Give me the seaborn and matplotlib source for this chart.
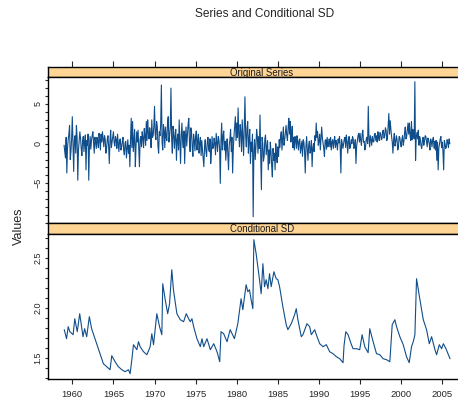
import numpy as np
import pandas as pd
import matplotlib
matplotlib.use("Agg")
import matplotlib.pyplot as plt
import seaborn as sns

sns.set_style("ticks")
plt.rcParams['font.family'] = ['Liberation Sans', 'DejaVu Sans']

# Serie originale : valeurs mensuelles (1959 -> 2005)
start_year = 1959
obs_per_year = 12
series_values = [
    -0.2, -1.0, -1.8, 0.8, -3.7, -0.5, 0.5, 1.2, 2.3, -2.0, -1.0, 0.6,    # 1959
    3.4, 0.2, -3.5, 0.5, 1.0, -1.2, 2.3, 0.8, -4.6, -0.8, 0.4, 1.5,       # 1960
    0.7, -0.6, -1.5, 0.3, 0.9, -1.0, 0.2, 1.1, -3.3, 0.4, -0.2, 1.2,      # 1961
    -4.6, -0.4, 0.9, -0.7, 0.4, 1.0, 1.5, 0.2, -1.2, 0.8, 0.3, -0.6,      # 1962
    0.8, 0.3, -0.5, 1.3, 0.5, -0.8, 1.2, 0.2, 1.5, 0.6, -0.4, 1.0,        # 1963
    0.6, -1.2, -0.6, 0.5, 1.0, -0.3, -2.5, 0.4, 1.7, -0.5, 0.2, 0.9,      # 1964
    1.5, 0.2, -0.3, 0.9, 0.5, -0.6, 1.2, 0.1, -1.0, 0.4, 0.6, -0.8,       # 1965
    -0.4, 0.3, 0.8, -0.9, -1.4, 0.1, 0.3, -1.8, -0.6, 0.5, -1.2, -0.2,    # 1966
    -2.9, 0.6, 3.2, -0.5, 2.8, -1.0, 0.4, 1.8, -2.9, -0.3, 1.5, 0.2,      # 1967
    1.7, -0.8, -2.9, 0.6, 0.9, -0.4, 1.5, 0.7, -0.5, 1.9, 1.0, -0.2,      # 1968
    2.8, 0.4, 3.0, 1.4, 0.6, 2.0, 1.2, -0.5, 3.0, 0.8, 1.0, 2.2,          # 1969
    4.7, 1.2, 0.5, 2.8, 2.2, -0.3, -1.2, 1.5, 1.0, 2.5, 7.4, 0.2,         # 1970
    -0.8, 2.4, 1.7, -0.5, 2.1, 0.8, 0.4, 2.6, 3.4, 0.2, 1.0, 2.0,         # 1971
    7.0, 0.6, -1.2, 2.2, 1.5, -0.6, 0.9, 1.8, -2.1, 0.5, 1.2, -0.8,       # 1972
    3.0, 0.4, -2.5, 1.0, 2.6, 0.3, -0.5, 1.6, -2.5, 0.6, 2.1, -0.3,       # 1973
    1.0, 2.4, 3.2, 0.2, -1.0, 2.0, 1.5, -0.4, -1.6, 1.2, 0.5, -0.9,       # 1974
    0.9, 1.6, -0.8, 0.3, 1.2, -1.2, 0.0, 0.8, -1.5, 0.4, -0.8, -1.8,      # 1975
    -2.9, -0.4, 0.5, -1.0, -1.6, 0.2, 0.8, -0.7, -1.0, 0.6, -2.5, -1.2,   # 1976
    0.9, -0.6, -0.5, 0.7, 0.0, -1.4, 1.3, 0.2, -1.0, 0.9, 0.5, -0.6,      # 1977
    -5.0, 0.4, 2.6, -0.8, 0.9, 1.6, -0.8, 0.3, -2.1, -0.6, 0.6, -1.5,     # 1978
    -3.3, -0.2, 0.5, 1.8, -1.0, 0.8, -3.7, -0.6, 1.0, 2.2, 3.4, 0.4,      # 1979
    2.6, 0.8, 4.5, 1.2, -0.4, 2.4, 1.5, -1.0, 3.0, 0.6, -1.5, 2.0,        # 1980
    5.9, 1.0, -0.4, 2.0, 2.8, -1.2, 0.5, 1.8, -2.5, 0.2, -1.0, 1.2,       # 1981
    -9.2, -1.0, 0.5, -2.0, -0.4, 1.8, 1.0, -1.2, 0.9, -0.6, 3.6, -1.6,    # 1982
    -5.8, 0.8, 0.0, -2.2, -1.6, 0.6, 1.1, -1.4, -0.5, 0.4, -3.3, -0.8,    # 1983
    -2.5, 0.2, -1.0, -2.8, -4.2, -0.6, -2.1, -1.2, -3.3, 0.0, -1.5, -2.4, # 1984
    -0.4, -1.6, 0.5, -0.5, 0.9, 1.5, -0.8, 0.6, 2.1, -0.2, 0.5, 1.4,      # 1985
    2.3, 1.0, 0.4, 2.0, 3.2, 1.2, 2.8, 0.2, 1.3, 2.2, -0.5, 0.8,          # 1986
    -0.8, 0.9, 0.5, -0.6, 1.0, 0.2, -0.8, 0.4, 0.6, -1.2, -0.5, 0.3,      # 1987
    -1.6, 0.5, 0.2, -1.0, -3.7, -0.4, 0.9, -0.8, -2.1, -0.2, 0.3, -1.2,   # 1988
    -0.8, 0.4, -2.9, -0.6, 0.0, -1.0, 1.0, 0.4, 2.6, 0.8, 1.5, -0.2,      # 1989
    0.3, 1.2, -0.8, 0.6, 2.1, 0.7, 0.0, -0.6, -1.6, 0.4, 0.5, -0.7,       # 1990
    0.8, -0.4, 0.0, 0.6, -0.4, 0.8, -0.8, 0.2, 0.5, -0.6, 0.3, 0.9,       # 1991
    -0.5, 0.4, 0.0, -0.8, 0.6, 0.1, 0.9, -0.4, -3.7, 0.5, 0.0, -0.6,      # 1992
    0.0, 0.6, 0.8, -0.5, 1.1, 0.2, -1.2, 0.4, 0.9, -0.6, -0.3, 0.5,       # 1993
    0.0, 0.9, 0.6, -0.6, -0.4, 0.5, -2.5, -0.3, 0.4, 1.0, 1.3, 0.2,       # 1994
    1.3, 0.4, -0.2, 1.2, 1.7, 0.2, 0.3, -0.8, -0.4, 0.6, 0.8, 0.0,        # 1995
    4.7, 0.6, -0.4, 1.0, 0.5, -0.2, 0.9, 0.3, 0.2, 1.2, 1.3, 0.4,         # 1996
    1.0, 0.2, 1.5, 0.8, 0.4, 1.4, 1.3, 0.5, 0.6, 1.6, 1.7, 0.7,           # 1997
    1.0, 2.0, 1.7, 0.4, 0.8, 2.2, 3.8, 1.2, 2.9, 1.8, 0.9, 0.2,           # 1998
    -1.2, 0.6, 1.3, -0.3, 0.2, 1.0, 0.5, -0.8, -0.4, 0.9, 0.8, 0.1,       # 1999
    -0.4, 0.5, 1.0, -0.2, 0.3, 1.4, 2.1, 0.6, 0.9, 1.8, 2.6, 1.2,         # 2000
    2.6, 1.0, 0.4, 2.8, 0.5, 1.8, 1.3, 0.6, 7.8, -2.1, 0.8, 1.4,          # 2001
    0.6, 1.7, -0.2, 0.9, 0.5, -0.3, -0.6, 0.4, 0.8, -0.2, 0.3, 1.0,       # 2002
    0.9, 0.2, -0.4, 0.7, 0.5, 0.0, -0.8, 0.6, 0.3, -0.4, 0.5, 0.8,        # 2003
    -0.6, 0.3, -0.8, 0.4, -2.1, 0.2, -3.3, -0.5, 0.0, 0.6, 0.9, -0.5,     # 2004
    0.2, -1.0, -3.3, 0.4, 0.0, -0.6, -0.4, 0.5, 0.2, -0.5, 0.6, 0.0,      # 2005
]

# Ecart-type conditionnel : points
sd_years = [
    1959.02, 1959.3, 1959.5, 1959.7, 1960.1, 1960.3, 1960.6, 1960.9, 1961.3, 1961.5,
    1961.75, 1962.07, 1962.35, 1962.76, 1963.37, 1963.78, 1964.19, 1964.59, 1964.8, 1965.2,
    1965.6, 1966.02, 1966.42, 1966.83, 1967.03, 1967.24, 1967.44, 1967.85, 1968.05, 1968.25,
    1968.66, 1969.07, 1969.47, 1969.67, 1969.88, 1970.28, 1970.61, 1970.89, 1971.0, 1971.3,
    1971.6, 1971.83, 1972.1, 1972.3, 1972.72, 1973.13, 1973.54, 1973.86, 1974.15, 1974.35,
    1974.55, 1974.76, 1975.16, 1975.57, 1975.77, 1975.98, 1976.38, 1976.79, 1977.2, 1977.6,
    1977.93, 1978.09, 1978.41, 1978.82, 1979.2, 1979.72, 1980.13, 1980.53, 1980.74, 1981.14,
    1981.35, 1981.55, 1981.75, 1981.96, 1982.08, 1982.36, 1982.77, 1982.97, 1983.18, 1983.38,
    1983.58, 1983.79, 1983.99, 1984.19, 1984.52, 1984.8, 1985.0, 1985.21, 1985.61, 1986.02,
    1986.22, 1986.63, 1987.04, 1987.24, 1987.44, 1987.85, 1988.05, 1988.54, 1988.87, 1989.07,
    1989.48, 1989.68, 1990.09, 1990.49, 1990.9, 1991.3, 1991.71, 1992.12, 1992.52, 1992.93,
    1993.05, 1993.26, 1993.54, 1993.95, 1994.15, 1994.56, 1994.96, 1995.25, 1995.57, 1995.98,
    1996.18, 1996.59, 1997.0, 1997.4, 1997.81, 1998.22, 1998.62, 1998.91, 1999.23, 1999.44,
    1999.84, 2000.25, 2000.65, 2000.98, 2001.26, 2001.47, 2001.67, 2001.87, 2002.28, 2002.69,
    2003.09, 2003.42, 2003.7, 2004.11, 2004.31, 2004.64, 2004.92, 2005.13, 2005.45, 2005.94,
]
sd_values = [
    1.78, 1.69, 1.81, 1.76, 1.73, 1.89, 1.76, 1.94, 1.71, 1.79,
    1.71, 1.91, 1.79, 1.69, 1.54, 1.44, 1.41, 1.38, 1.52, 1.46,
    1.41, 1.38, 1.36, 1.38, 1.34, 1.48, 1.63, 1.58, 1.66, 1.61,
    1.56, 1.53, 1.61, 1.74, 1.63, 1.94, 1.81, 1.73, 2.24, 2.08,
    1.94, 2.04, 2.38, 2.18, 1.94, 1.88, 1.86, 1.94, 1.89, 1.86,
    1.89, 1.81, 1.69, 1.61, 1.69, 1.61, 1.69, 1.58, 1.64, 1.56,
    1.46, 1.76, 1.74, 1.66, 1.78, 1.69, 1.84, 2.09, 1.98, 2.23,
    2.16, 2.18, 2.08, 1.99, 2.68, 2.54, 2.28, 2.14, 2.44, 2.21,
    2.28, 2.19, 2.34, 2.21, 2.36, 2.29, 2.28, 2.21, 2.01, 1.83,
    1.78, 1.84, 1.93, 1.99, 1.88, 1.71, 1.73, 1.84, 1.81, 1.73,
    1.78, 1.73, 1.64, 1.61, 1.63, 1.56, 1.54, 1.51, 1.49, 1.45,
    1.62, 1.76, 1.73, 1.63, 1.59, 1.59, 1.58, 1.73, 1.61, 1.55,
    1.79, 1.66, 1.54, 1.53, 1.49, 1.48, 1.46, 1.83, 1.88, 1.81,
    1.71, 1.63, 1.51, 1.45, 1.61, 1.66, 1.73, 2.29, 2.08, 1.88,
    1.78, 1.64, 1.71, 1.58, 1.53, 1.63, 1.59, 1.64, 1.59, 1.49,
]

x_ticks = [1960, 1965, 1970, 1975, 1980, 1985, 1990, 1995, 2000, 2005]
panel_titles = ["Original Series", "Conditional SD"]

df_series = pd.DataFrame({
    "year": start_year + np.arange(len(series_values)) / obs_per_year,
    "value": series_values,
})
df_sd = pd.DataFrame({"year": sd_years, "value": sd_values})

line_color = "#104E8B"
strip_color = "#FFD595"

# Mise en page en pixels (figure de 458 x 404)
W, H = 458, 404
fig = plt.figure(figsize=(W / 100, H / 100), dpi=100)

def box(left, top, right, bottom):
    return [left / W, 1 - bottom / H, (right - left) / W, (bottom - top) / H]

L, R = 48.3, 475
xlim = (1957.08, 2008.98)

strip1 = fig.add_axes(box(L, 67.3, R, 77.3))
ax1 = fig.add_axes(box(L, 77.3, R, 223.3))
strip2 = fig.add_axes(box(L, 223.3, R, 234))
ax2 = fig.add_axes(box(L, 234, R, 379.3))

sns.lineplot(data=df_series, x="year", y="value", ax=ax1, color=line_color,
             linewidth=0.8, estimator=None, sort=False)
sns.lineplot(data=df_sd, x="year", y="value", ax=ax2, color=line_color,
             linewidth=0.8, estimator=None, sort=False)

for ax in (strip1, ax1, strip2, ax2):
    ax.set_xlim(xlim)
    ax.set_xlabel("")
    ax.set_ylabel("")
    for s in ax.spines.values():
        s.set_visible(True)
        s.set_color("black")
        s.set_linewidth(1.0)

for strip, title in zip((strip1, strip2), panel_titles):
    strip.set_facecolor(strip_color)
    strip.set_yticks([])
    strip.text(0.5, 0.45, title, transform=strip.transAxes, ha="center",
               va="center", fontsize=6.9, color="#1a1a1a")

# ticks du haut sur le bandeau superieur
strip1.set_xticks(x_ticks)
strip1.tick_params(axis="x", top=True, bottom=False, labeltop=False,
                   labelbottom=False, direction="out", length=4.2, width=0.8)
strip2.set_xticks([])

ax1.set_ylim(-10.03, 8.36)
ax1.set_yticks(np.arange(-10, 9, 1), minor=True)
ax1.set_yticks([-5, 0, 5])
ax1.set_xticks([])

ax2.set_ylim(1.284, 2.737)
ax2.set_yticks(np.arange(1.3, 2.75, 0.1), minor=True)
ax2.set_yticks([1.5, 2.0, 2.5])
ax2.set_yticklabels(["1.5", "2.0", "2.5"])
ax2.set_xticks(x_ticks)
ax2.tick_params(axis="x", direction="out", length=3.8, width=0.8,
                labelsize=6.8, pad=4.0)

for ax in (ax1, ax2):
    ax.tick_params(axis="y", which="both", direction="out", length=2.3,
                   width=0.8, labelsize=6.5, pad=2.0)
    for lab in ax.get_yticklabels():
        lab.set_rotation(90)
        lab.set_va("center")

fig.text(264.7 / W, 1 - 14 / H, "Series and Conditional SD", ha="center",
         va="center", fontsize=8.6)
fig.text(19 / W, 1 - 226 / H, "Values", rotation=90, ha="center",
         va="center", fontsize=9)

fig.savefig("out.png", dpi=100)
